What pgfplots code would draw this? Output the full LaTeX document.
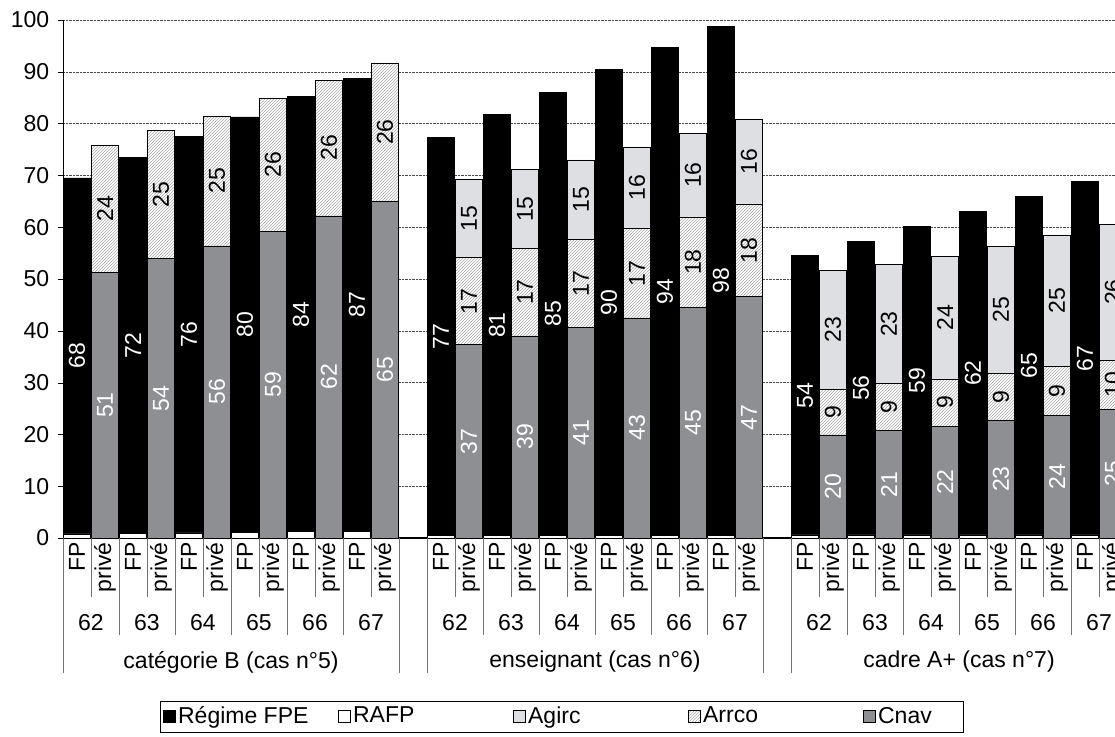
\documentclass[border=0pt]{standalone}
\usepackage{pgfplots}
\pgfplotsset{compat=1.18}
\usepackage{pgfplotstable}
\usepackage{fontspec}
\setmainfont{Liberation Sans}
\usetikzlibrary{patterns}
\definecolor{cnav}{RGB}{142,143,147}
\definecolor{agirc}{RGB}{222,223,226}
\definecolor{hatch}{RGB}{170,170,170}
\pgfplotstableread{
x cnav arrco agirc rafp fpe
0.5 0 0 0 0.8 68.7
1.5 51.3 24.5 0 0 0
2.5 0 0 0 0.9 72.6
3.5 53.9 24.8 0 0 0
4.5 0 0 0 1.0 76.5
5.5 56.4 25.1 0 0 0
6.5 0 0 0 1.1 80.2
7.5 59.2 25.7 0 0 0
8.5 0 0 0 1.2 84.0
9.5 62.2 26.2 0 0 0
10.5 0 0 0 1.3 87.5
11.5 65.0 26.7 0 0 0
13.5 0 0 0 0.5 76.8
14.5 37.3 16.8 15.1 0 0
15.5 0 0 0 0.5 81.2
16.5 39.0 16.9 15.2 0 0
17.5 0 0 0 0.5 85.5
18.5 40.6 17.0 15.4 0 0
19.5 0 0 0 0.5 89.9
20.5 42.5 17.2 15.8 0 0
21.5 0 0 0 0.5 94.2
22.5 44.5 17.5 16.1 0 0
23.5 0 0 0 0.5 98.3
24.5 46.6 17.9 16.3 0 0
26.5 0 0 0 0.6 53.9
27.5 19.9 8.9 22.8 0 0
28.5 0 0 0 0.6 56.7
29.5 20.7 9.1 23.0 0 0
30.5 0 0 0 0.6 59.6
31.5 21.6 9.1 23.7 0 0
32.5 0 0 0 0.6 62.5
33.5 22.7 9.1 24.6 0 0
34.5 0 0 0 0.6 65.4
35.5 23.7 9.5 25.3 0 0
36.5 0 0 0 0.6 68.2
37.5 24.9 9.4 26.3 0 0
}\data
\pgfplotstableread{
x y t
0.5 35.2 68
2.5 37.2 72
4.5 39.25 76
6.5 41.2 80
8.5 43.2 84
10.5 45.05 87
1.5 25.65 51
3.5 26.95 54
5.5 28.2 56
7.5 29.6 59
9.5 31.1 62
11.5 32.5 65
13.5 38.9 77
15.5 41.1 81
17.5 43.25 85
19.5 45.45 90
21.5 47.6 94
23.5 49.65 98
14.5 18.65 37
16.5 19.5 39
18.5 20.3 41
20.5 21.25 43
22.5 22.25 45
24.5 23.3 47
26.5 27.55 54
28.5 28.95 56
30.5 30.4 59
32.5 31.85 62
34.5 33.3 65
36.5 34.7 67
27.5 9.95 20
29.5 10.35 21
31.5 10.8 22
33.5 11.35 23
35.5 11.85 24
37.5 12.45 25
}\whitelabels
\pgfplotstableread{
x y t
1.5 63.55 24
3.5 66.3 25
5.5 68.95 25
7.5 72.05 26
9.5 75.3 26
11.5 78.35 26
14.5 45.7 17
16.5 47.45 17
18.5 49.1 17
20.5 51.1 17
22.5 53.25 18
24.5 55.55 18
14.5 61.65 15
16.5 63.5 15
18.5 65.3 15
20.5 67.6 16
22.5 70.05 16
24.5 72.65 16
27.5 24.35 9
29.5 25.25 9
31.5 26.15 9
33.5 27.25 9
35.5 28.45 9
37.5 29.6 10
27.5 40.2 23
29.5 41.3 23
31.5 42.55 24
33.5 44.1 25
35.5 45.85 25
37.5 47.45 26
}\blacklabels
\begin{document}
\fontsize{23}{26}\selectfont
\begin{tikzpicture}
\useasboundingbox (-63pt,-198pt) rectangle (1052pt,538pt);
\clip (-63pt,-198pt) rectangle (1052pt,538pt);
\pgfplotsset{common/.style={
  scale only axis, width=1052pt, height=518pt,
  xmin=0, xmax=37.571, ymin=0, ymax=100,
  at={(0,0)}, anchor=south west}}
\begin{axis}[common,
  ybar stacked, bar width=0.97,
  axis x line*=bottom, axis y line*=left,
  x axis line style={line width=1.2pt},
  xtick=\empty,
  ytick={0,10,...,100},
  tick align=outside, major tick length=5pt,
  tick style={black},
  yticklabel style={font=\fontsize{23}{26}\selectfont, xshift=-1pt},
  /pgf/number format/assume math mode=true,
  ymajorgrids, grid style={densely dotted, black!70, line width=0.5pt},
  legend columns=5, reverse legend,
  legend style={at={(0.474,-0.345)}, anchor=center, draw=black,
    font=\fontsize{23}{26}\selectfont, inner sep=3pt},
  legend image code/.code={\draw[#1, line width=1pt] (0pt,-6pt) rectangle (12pt,6pt);},
]
\addplot[fill=cnav, draw=black, line width=0.6pt] table[x=x,y=cnav]{\data};
\addplot[fill=white, draw=black, line width=0.6pt, postaction={pattern=north east lines, pattern color=hatch}] table[x=x,y=arrco]{\data};
\addplot[fill=agirc, draw=black, line width=0.6pt] table[x=x,y=agirc]{\data};
\addplot[fill=white, draw=black, line width=0.6pt] table[x=x,y=rafp]{\data};
\addplot[fill=black, draw=black, line width=0.6pt] table[x=x,y=fpe]{\data};
\legend{\makebox[80pt][l]{Cnav},\makebox[158pt][l]{Arrco},\makebox[158pt][l]{Agirc},\makebox[158pt][l]{RAFP},\makebox[158pt][l]{Régime FPE}}
\end{axis}
\begin{axis}[common, hide axis, clip=false,
  point meta=explicit symbolic,
  nodes near coords, nodes near coords align={center},
  every node near coord/.append style={rotate=90, anchor=center, font=\fontsize{23}{26}\selectfont}]
\addplot[only marks, mark=none, every node near coord/.append style={text=white}] table[x=x,y=y,meta=t]{\whitelabels};
\addplot[only marks, mark=none, every node near coord/.append style={text=black}] table[x=x,y=y,meta=t]{\blacklabels};
\end{axis}
% category table
\begin{scope}[draw=black!55, line width=0.6pt]
\foreach \g in {0,13,26}{
  \foreach \i in {0,...,12}{ \draw (\g*28pt+\i*28pt,0) -- ++(0,-59pt); }
  \foreach \i in {0,2,...,12}{ \draw (\g*28pt+\i*28pt,0) -- ++(0,-97pt); }
  \draw (\g*28pt,0) -- ++(0,-135pt);
  \draw (\g*28pt+12*28pt,0) -- ++(0,-135pt);
  \foreach \i/\a in {0/62,1/63,2/64,3/65,4/66,5/67}{
    \node[rotate=90, anchor=east, inner sep=1pt] at (\g*28pt+\i*56pt+14pt,-3pt) {FP};
    \node[rotate=90, anchor=east, inner sep=1pt] at (\g*28pt+\i*56pt+42pt,-3pt) {privé};
    \node at (\g*28pt+\i*56pt+28pt,-85pt) {\a};
  }
}
\end{scope}
\node at (6*28pt,-124pt) {catégorie B (cas n°5)};
\node at (19*28pt,-124pt) {enseignant (cas n°6)};
\node at (32*28pt,-124pt) {cadre A+ (cas n°7)};
\end{tikzpicture}
\end{document}
